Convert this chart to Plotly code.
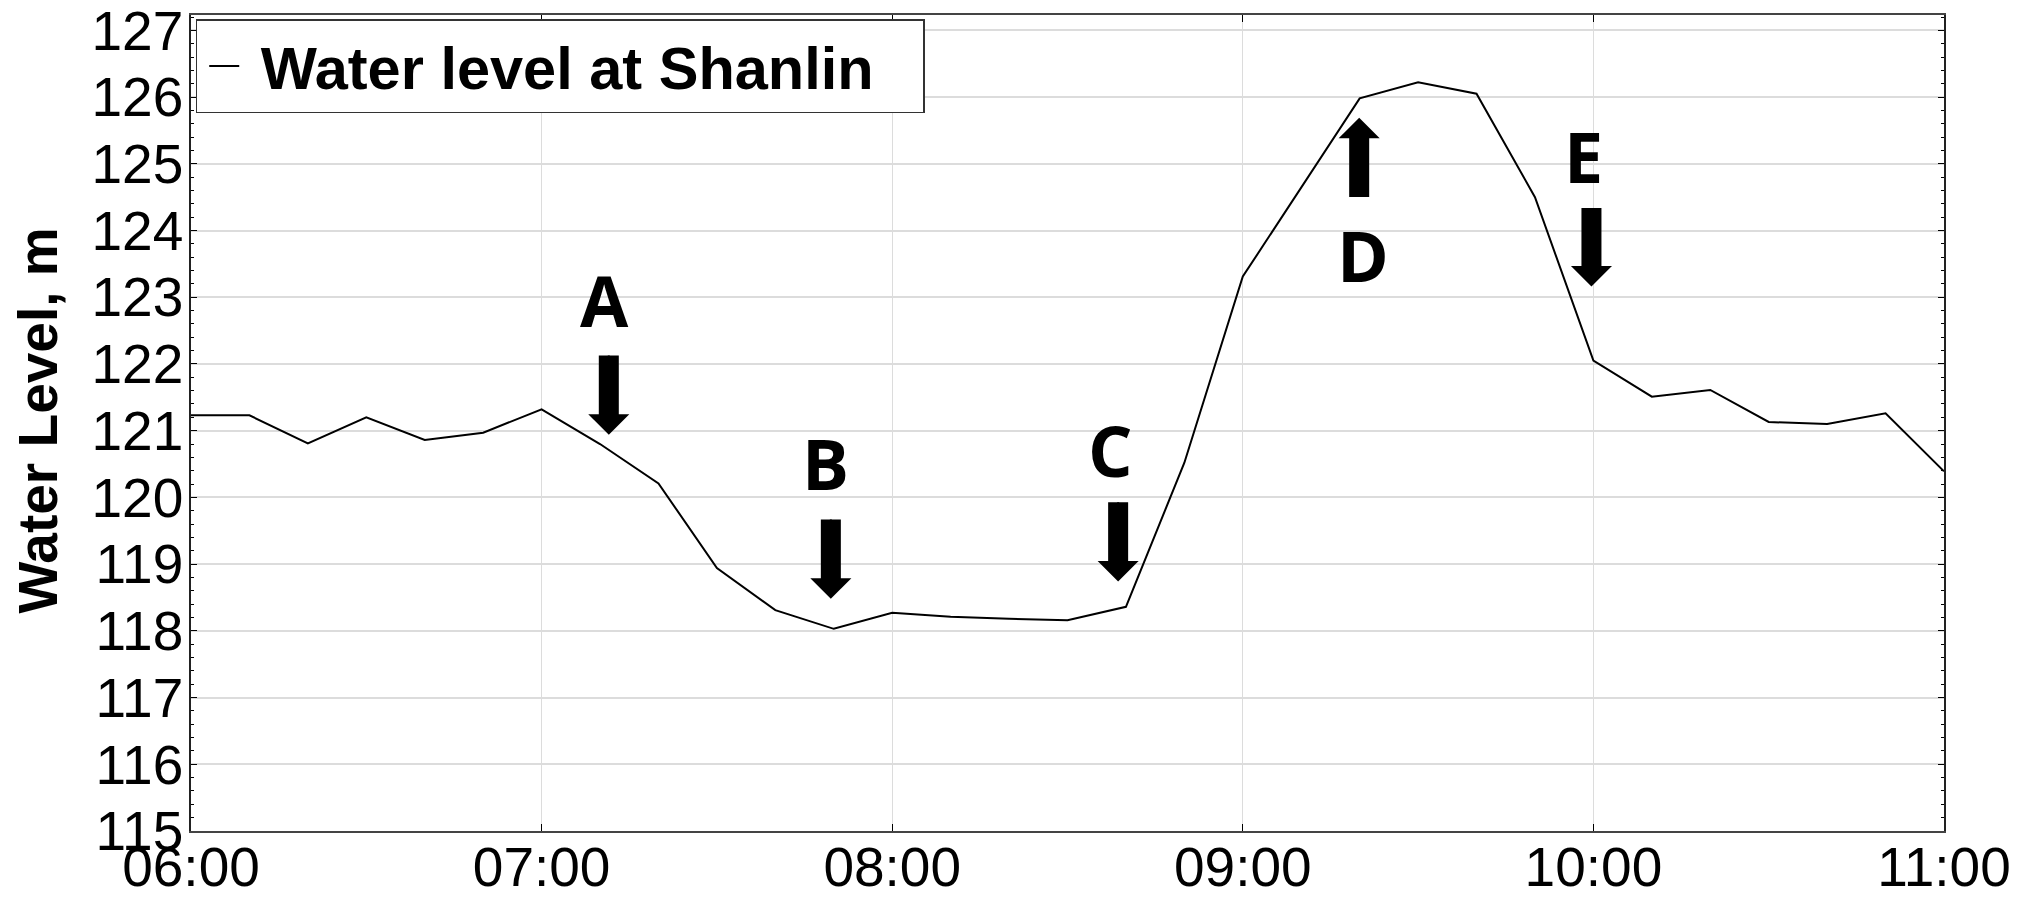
import plotly.graph_objects as go

# Water level record at Shanlin, 10-minute readings
DAY = "2000-01-01"
times = [
    "06:00", "06:10", "06:20", "06:30", "06:40", "06:50",
    "07:00", "07:10", "07:20", "07:30", "07:40", "07:50",
    "08:00", "08:10", "08:20", "08:30", "08:40", "08:50",
    "09:00", "09:10", "09:20", "09:30", "09:40", "09:50",
    "10:00", "10:10", "10:20", "10:30", "10:40", "10:50",
    "11:00",
]
levels = [
    121.23, 121.23, 120.81, 121.20, 120.86, 120.97,
    121.32, 120.80, 120.21, 118.94, 118.31, 118.03,
    118.27, 118.21, 118.18, 118.16, 118.36, 120.52,
    123.31, 124.65, 125.98, 126.22, 126.05, 124.50,
    122.05, 121.51, 121.61, 121.13, 121.10, 121.26,
    120.39,
]

# Event markers: label, time of arrow, arrow tail level, arrow tip level, label level
event_labels = ["A", "B", "C", "D", "E"]
event_times = ["07:11:30", "07:49:30", "08:38:40", "09:19:55", "09:59:40"]
event_label_times = ["07:10:50", "07:48:35", "08:37:25", "09:20:35", "09:58:20"]
arrow_tail = [122.15, 119.69, 119.95, 124.48, 124.36]
arrow_tip = [120.94, 118.48, 118.74, 125.69, 123.16]
label_level = [122.96, 120.52, 120.71, 123.63, 125.12]

y_ticks = list(range(115, 128))
x_ticks = ["06:00", "07:00", "08:00", "09:00", "10:00", "11:00"]

TICK_FONT = dict(family="Liberation Sans, Arial", size=55, color="black")
SHAFT_WIDTH = 20          # px
HEAD_SCALE = 3.42         # arrowhead size multiplier for a 2 px guide line
SHAFT_CUT = 0.22          # shaft stops this far (y units) short of the tip, inside the head

fig = go.Figure()
fig.add_trace(go.Scatter(
    x=[f"{DAY} {t}" for t in times],
    y=levels,
    mode="lines",
    line=dict(color="black", width=2),
    name="\u00a0Water level at Shanlin",
))

annotations = []
for lab, t, t_lab, y0, y1, yl in zip(event_labels, event_times, event_label_times,
                                      arrow_tail, arrow_tip, label_level):
    ts = f"{DAY} {t}"
    direction = 1 if y1 > y0 else -1
    # thick shaft
    annotations.append(dict(
        x=ts, y=y1 - direction * SHAFT_CUT, ax=ts, ay=y0,
        xref="x", yref="y", axref="x", ayref="y",
        text="", showarrow=True, arrowhead=0, arrowwidth=SHAFT_WIDTH,
        arrowcolor="black", standoff=0,
    ))
    # arrow head
    annotations.append(dict(
        x=ts, y=y1, ax=ts, ay=y0, xref="x", yref="y", axref="x", ayref="y",
        text="", showarrow=True, arrowhead=1, arrowwidth=2, arrowsize=HEAD_SCALE,
        arrowcolor="black", standoff=0,
    ))
    annotations.append(dict(
        x=f"{DAY} {t_lab}", y=yl, xref="x", yref="y", text=lab, showarrow=False,
        xanchor="center", yanchor="middle",
        font=dict(family="Open Sans", size=70, color="black", weight="bold"),
    ))

annotations.append(dict(
    text="Water Level, m", textangle=-90, xref="paper", yref="paper",
    x=-0.0873, y=0.503, xanchor="center", yanchor="middle", showarrow=False,
    font=dict(family="Liberation Sans, Arial", size=55, color="black", weight="bold"),
))

fig.update_layout(
    width=2044, height=899,
    margin=dict(l=191, r=100, t=15, b=68, pad=0),
    paper_bgcolor="white", plot_bgcolor="white",
    showlegend=True,
    legend=dict(
        x=0.0027, y=0.9947, xanchor="left", yanchor="top",
        orientation="h", entrywidth=674, itemwidth=30, indentation=7,
        bgcolor="white", bordercolor="#333", borderwidth=1.5,
        font=dict(family="Liberation Sans, Arial", size=59.5, color="black", weight="bold"),
    ),
    annotations=annotations,
)

fig.update_xaxes(
    type="date", automargin=False,
    range=[f"{DAY} 06:00", f"{DAY} 11:00"],
    tickvals=[f"{DAY} {t}" for t in x_ticks],
    ticktext=x_ticks,
    showgrid=True, gridcolor="#dcdcdc", gridwidth=1,
    ticks="inside", ticklen=7, tickwidth=1, tickcolor="black",
    showline=True, linecolor="#444", linewidth=2, mirror="ticks",
    tickfont=TICK_FONT, zeroline=False, ticklabelstandoff=-13,
    ticklabeloverflow="allow",
)
fig.update_yaxes(
    automargin=False,
    range=[115, 127.23],
    tickvals=y_ticks,
    showgrid=True, gridcolor="#dcdcdc", gridwidth=1.5,
    ticks="inside", ticklen=6, tickwidth=1, tickcolor="black",
    minor=dict(dtick=0.2, ticks="inside", ticklen=3, tickcolor="black", showgrid=False),
    showline=True, linecolor="#222", linewidth=1.5, mirror="ticks",
    tickfont=TICK_FONT, zeroline=False, ticklabelstandoff=-5,
    ticklabeloverflow="allow",
)

fig.write_html("out.html")
